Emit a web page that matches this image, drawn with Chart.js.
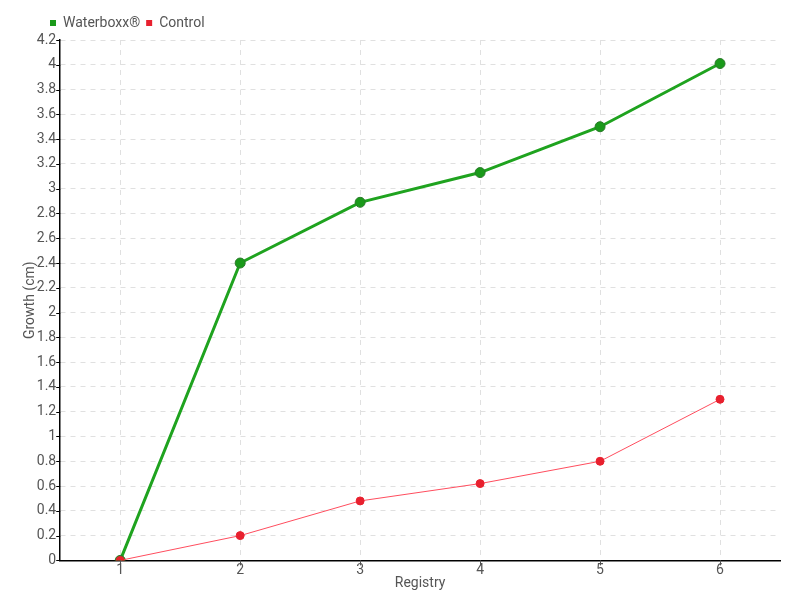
<!DOCTYPE html>
<html>
<head>
<meta charset="utf-8">
<script src="https://cdn.jsdelivr.net/npm/chart.js@4/dist/chart.umd.min.js"></script>
<style>
  body { margin: 0; background: #fff; }
  #wrap { width: 800px; height: 600px; }
</style>
</head>
<body>
<div id="wrap"><canvas id="growthChart"></canvas></div>
<script>
var registryLabels = ['1', '2', '3', '4', '5', '6'];
var waterboxxData = [0, 2.4, 2.89, 3.13, 3.5, 4.01];
var controlData = [0, 0.2, 0.48, 0.62, 0.8, 1.3];
var yTickValues = [0, 0.2, 0.4, 0.6, 0.8, 1, 1.2, 1.4, 1.6, 1.8, 2, 2.2, 2.4, 2.6, 2.8, 3, 3.2, 3.4, 3.6, 3.8, 4, 4.2];

Chart.defaults.font.family = 'Roboto, "Liberation Sans", sans-serif';
Chart.defaults.color = '#555';

const textFont = { size: 14 };
const gridColor = '#e0e0e0';

var ctx = document.getElementById('growthChart').getContext('2d');
var myChart = new Chart(ctx, {
  type: 'line',
  data: {
    labels: registryLabels,
    datasets: [{
      label: 'Waterboxx®',
      data: waterboxxData,
      borderColor: '#1fa31f',
      backgroundColor: '#1a9a1a',
      pointBorderColor: '#2a7a2a',
      pointBorderWidth: 1,
      borderWidth: 3,
      pointRadius: 5,
      tension: 0,
      order: 2
    }, {
      label: 'Control',
      data: controlData,
      borderColor: '#ff4d5e',
      backgroundColor: '#e8202e',
      pointBorderColor: '#e8202e',
      pointBorderWidth: 1,
      borderWidth: 1,
      pointRadius: 4,
      tension: 0,
      order: 1
    }]
  },
  options: {
    responsive: true,
    maintainAspectRatio: false,
    animation: false,
    layout: { padding: { left: 22, right: 20, top: 10, bottom: 8 } },
    plugins: {
      legend: {
        position: 'top',
        align: 'start',
        labels: {
          boxWidth: 6,
          boxHeight: 6,
          padding: 6,
          font: textFont,
          color: '#555',
          generateLabels: function (chart) {
            return chart.data.datasets.map(function (ds, i) {
              return {
                text: ds.label,
                fillStyle: ds.backgroundColor,
                strokeStyle: ds.backgroundColor,
                lineWidth: 0,
                datasetIndex: i,
                fontColor: '#555'
              };
            });
          }
        }
      },
      tooltip: { enabled: false }
    },
    scales: {
      x: {
        offset: true,
        grid: { offset: false, color: gridColor, drawTicks: false },
        border: { color: '#000', width: 1.5, dash: [5, 5] },
        ticks: { font: textFont, color: '#555', padding: 2 },
        title: { display: true, text: 'Registry', font: textFont, color: '#555', padding: { top: -6, bottom: 0 } }
      },
      y: {
        min: 0,
        max: 4.2,
        afterBuildTicks: function (axis) {
          axis.ticks = yTickValues.map(function (v) { return { value: v }; });
        },
        grid: { color: gridColor, drawTicks: false },
        border: { color: '#000', width: 1.5, dash: [5, 5] },
        ticks: {
          font: textFont,
          color: '#555',
          padding: 4,
          callback: function (v) { return String(Math.round(v * 10) / 10); }
        },
        title: { display: true, text: 'Growth (cm)', font: textFont, color: '#555', padding: { top: 0, bottom: -6 } }
      }
    }
  },
  plugins: [{
    id: 'legendShiftAndTicks',
    afterLayout: function (chart) {
      chart.legend.left += 22;
      chart.legend.right += 22;
    },
    afterDraw: function (chart) {
      var c = chart.ctx;
      var xs = chart.scales.x, ys = chart.scales.y;
      c.save();
      c.strokeStyle = '#000';
      c.lineWidth = 1;
      ys.ticks.forEach(function (t) {
        var py = Math.round(ys.getPixelForValue(t.value)) + 0.5;
        c.beginPath();
        c.moveTo(xs.left - 4, py);
        c.lineTo(xs.left, py);
        c.stroke();
      });
      c.strokeStyle = '#555';
      registryLabels.forEach(function (l, i) {
        var px = Math.round(xs.getPixelForValue(i)) + 0.5;
        c.beginPath();
        c.moveTo(px, ys.bottom);
        c.lineTo(px, ys.bottom + 5);
        c.stroke();
      });
      c.restore();
    }
  }]
});
</script>
</body>
</html>
